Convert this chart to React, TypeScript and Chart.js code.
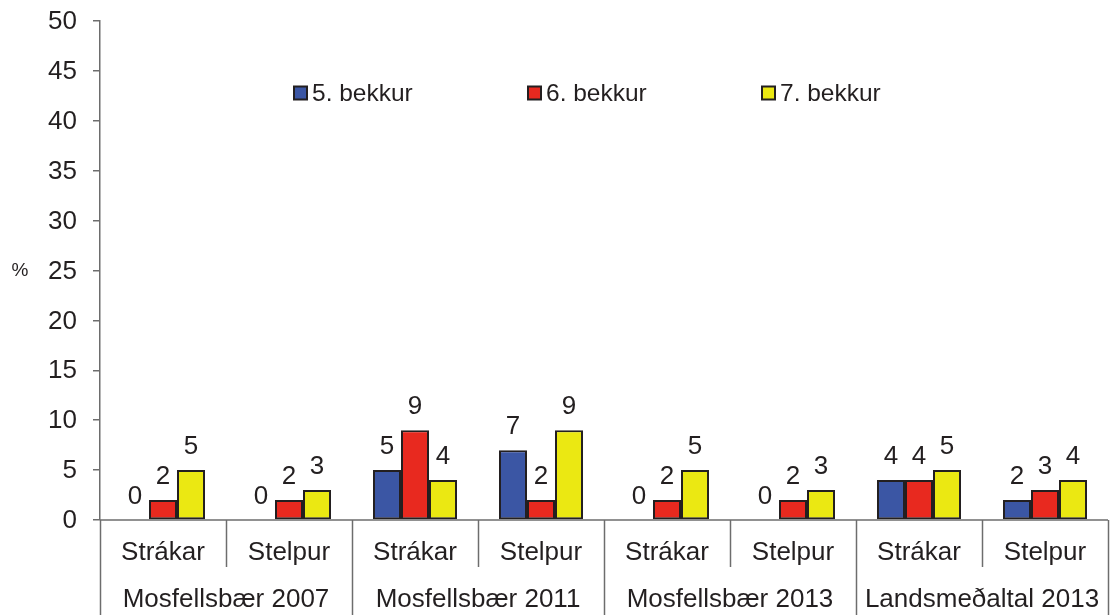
import React, { useEffect, useRef } from "react";
import { Chart, registerables } from "chart.js";

Chart.register(...registerables);

const subCategories = ["Strákar", "Stelpur", "Strákar", "Stelpur", "Strákar", "Stelpur", "Strákar", "Stelpur"];
const groups = ["Mosfellsbær 2007", "Mosfellsbær 2011", "Mosfellsbær 2013", "Landsmeðaltal 2013"];
const seriesNames = ["5. bekkur", "6. bekkur", "7. bekkur"];
const grade5 = [0, 0, 5, 7, 0, 0, 4, 2];
const grade6 = [2, 2, 9, 2, 2, 2, 4, 3];
const grade7 = [5, 3, 4, 9, 5, 3, 5, 4];
const yTicks = [0, 5, 10, 15, 20, 25, 30, 35, 40, 45, 50];

const colors = ["#3b56a4", "#e8291f", "#ebe812"];
const TEXT = "#231f20";
const FONT = "'Liberation Sans', Arial, sans-serif";

function drawText(ctx: any, text: string, x: number, y: number, size: number, align: string, baseline: string) {
  ctx.save();
  ctx.font = `${size}px ${FONT}`;
  ctx.textAlign = align;
  ctx.textBaseline = baseline;
  ctx.fillStyle = TEXT;
  ctx.fillText(text, x, y);
  ctx.restore();
}

const overlayPlugin = {
  id: "overlay",
  afterDatasetsDraw(chart: any) {
    const ctx = chart.ctx;
    const area = chart.chartArea;
    const xScale = chart.scales.x;
    const yScale = chart.scales.y;
    const H = chart.height;
    ctx.save();
    // y tick labels
    yScale.ticks.forEach((t: any) => {
      drawText(ctx, String(t.value), area.left - 23, yScale.getPixelForValue(t.value) + 1, 26, "right", "middle");
    });
    // data labels
    chart.data.datasets.forEach((ds: any, i: number) => {
      const meta = chart.getDatasetMeta(i);
      meta.data.forEach((bar: any, j: number) => {
        drawText(ctx, String(ds.data[j]), bar.x, bar.y - 16, 26, "center", "alphabetic");
      });
    });
    // x axis line
    ctx.strokeStyle = "#6d6d6d";
    ctx.lineWidth = 1.5;
    ctx.beginPath();
    ctx.moveTo(area.left, area.bottom);
    ctx.lineTo(area.right, area.bottom);
    ctx.stroke();
    // separators
    const n = subCategories.length;
    const step = (area.right - area.left) / n;
    for (let k = 0; k <= n; k++) {
      const x = Math.round(area.left + k * step) + 0.5;
      const isGroup = k % 2 === 0;
      ctx.beginPath();
      ctx.moveTo(x, area.bottom);
      ctx.lineTo(x, isGroup ? H : area.bottom + 47);
      ctx.stroke();
    }
    // sub labels
    subCategories.forEach((s, j) => {
      drawText(ctx, s, xScale.getPixelForValue(j), area.bottom + 33, 26, "center", "middle");
    });
    groups.forEach((g, gi) => {
      const cx = area.left + (gi * 2 + 1) * step;
      drawText(ctx, g, cx, area.bottom + 80, 26, "center", "middle");
    });
    // legend
    const legendX = [294, 528, 762];
    const ly = 93;
    seriesNames.forEach((name, i) => {
      ctx.fillStyle = colors[i];
      ctx.fillRect(legendX[i], ly - 6.5, 13, 13);
      ctx.strokeStyle = TEXT;
      ctx.lineWidth = 2;
      ctx.strokeRect(legendX[i], ly - 6.5, 13, 13);
      drawText(ctx, name, legendX[i] + 18, ly + 1, 24.5, "left", "middle");
    });
    // % label
    drawText(ctx, "%", 20, 271, 19, "center", "middle");
    ctx.restore();
  },
};

export default function App() {
  const ref = useRef<HTMLCanvasElement | null>(null);
  useEffect(() => {
    document.body.style.margin = "0";
    const canvas = ref.current!;
    const chart = new Chart(canvas, {
      type: "bar",
      data: {
        labels: subCategories,
        datasets: [grade5, grade6, grade7].map((d, i) => ({
          label: seriesNames[i],
          data: d,
          backgroundColor: colors[i],
          borderColor: TEXT,
          borderWidth: (c: any) => (c.raw === 0 ? 0 : 2),
          borderSkipped: false,
          categoryPercentage: 0.667,
          barPercentage: 1,
        })),
      },
      options: {
        responsive: false,
        animation: false,
        layout: { padding: { top: 21, right: 4, bottom: 95, left: 0 } },
        plugins: { legend: { display: false }, tooltip: { enabled: false } },
        scales: {
          x: { display: false },
          y: {
            min: 0,
            max: 50,
            afterBuildTicks: (s: any) => {
              s.ticks = yTicks.map((v) => ({ value: v }));
            },
            afterFit: (s: any) => {
              s.width = 100;
            },
            ticks: { display: false },
            grid: { drawOnChartArea: false, drawTicks: true, tickLength: 7, color: "#6d6d6d", lineWidth: 1.5 },
            border: { color: "#6d6d6d", width: 1.5 },
          },
        },
      },
      plugins: [overlayPlugin],
    });
    return () => chart.destroy();
  }, []);
  return (
    <canvas
      ref={ref}
      width={1112}
      height={615}
      style={{ display: "block", width: 1112, height: 615 }}
    />
  );
}
